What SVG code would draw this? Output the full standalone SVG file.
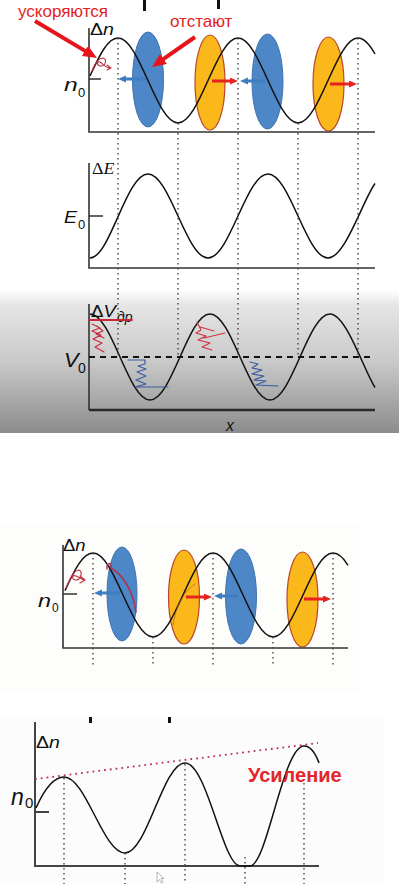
<svg xmlns="http://www.w3.org/2000/svg" width="399" height="884" viewBox="0 0 399 884">
<defs>
<linearGradient id="band" x1="0" y1="290" x2="0" y2="433" gradientUnits="userSpaceOnUse">
<stop offset="0" stop-color="#ffffff"/>
<stop offset="0.1" stop-color="#e6e6e6"/>
<stop offset="0.5" stop-color="#c9c9c9"/>
<stop offset="1" stop-color="#8c8c8c"/>
</linearGradient>
<marker id="hb" markerUnits="userSpaceOnUse" markerWidth="8" markerHeight="8" refX="1" refY="3.5" orient="auto"><path d="M0,0 L8,3.5 L0,7 z" fill="#3d7dc2"/></marker>
<marker id="hr" markerUnits="userSpaceOnUse" markerWidth="8" markerHeight="8" refX="1" refY="3.5" orient="auto"><path d="M0,0 L8,3.5 L0,7 z" fill="#e5221e"/></marker>
<marker id="hbig" markerUnits="userSpaceOnUse" markerWidth="15" markerHeight="13" refX="2" refY="6" orient="auto"><path d="M0,0 L14,6 L0,12 z" fill="#e8141c"/></marker>
</defs>
<style>
.ax{stroke:#333;stroke-width:1.6;fill:none}
.wave{stroke:#111;stroke-width:1.5;fill:none}
.dot{stroke:#444;stroke-width:1.4;stroke-dasharray:1.4 3.6;fill:none}
.blue{fill:#4d87c7;stroke:#3f74b0;stroke-width:1}
.orng{fill:#fab81a;stroke:#b8452a;stroke-width:1.2}
.ab{stroke:#3d7dc2;stroke-width:3;marker-end:url(#hb)}
.ar{stroke:#e5221e;stroke-width:3;marker-end:url(#hr)}
.big{stroke:#e8141c;stroke-width:4;marker-end:url(#hbig)}
.lbl{font-family:"Liberation Sans",Arial,sans-serif;fill:#111}
.it{font-style:italic}
.ann{font-family:"Liberation Sans",Arial,sans-serif;fill:#e31e24}
.scr{fill:none;stroke-linejoin:round;stroke-linecap:round}
</style>
<rect x="0" y="0" width="399" height="884" fill="#ffffff"/>
<rect x="0" y="290" width="399" height="143" fill="url(#band)"/>
<rect x="0" y="525" width="360" height="165" fill="#fdfdfb"/>
<rect x="0" y="716" width="383" height="168" fill="#fcfcfc"/>
<g id="top-marks" fill="#111">
<rect x="143" y="0" width="3" height="11"/>
<rect x="217" y="0" width="3" height="9"/>
<rect x="89" y="717" width="3" height="6"/>
<rect x="168" y="717" width="3" height="6"/>
</g>

<g id="panel1">
<g id="p1-ellipses">
<ellipse class="blue" cx="148" cy="79.5" rx="15.5" ry="47.5"/>
<ellipse class="orng" cx="210" cy="82.5" rx="15" ry="47.5"/>
<ellipse class="blue" cx="267.5" cy="81.5" rx="15.5" ry="47.5"/>
<ellipse class="orng" cx="328.5" cy="84" rx="15.5" ry="47"/>
</g>
<path class="ax" d="M89,28 V132 H375 M89,79 H101"/>
<path class="wave" d="M90,76 C100,54 108,38 118,38 C139.8,38 156.2,123 178,123 C199.8,123 216.2,38 238,38 C259.8,38 276.2,123 298,123 C319.8,123 336.2,38 358,38 C364,38 369,43.4 375,54"/>
<text class="lbl" font-size="17" transform="translate(90,35) scale(1.15,1)">Δ<tspan class="it">n</tspan></text>
<text class="lbl it" font-size="19" transform="translate(64,91) scale(1.3,1)">n</text>
<text class="lbl" font-size="13" x="78" y="97">0</text>
</g>

<g id="panel2">
<path class="ax" d="M89,163 V268 H375 M89,216 H103"/>
<path class="wave" d="M90,258 C110,258 126.2,174 148,174 C169.8,174 186.2,258 208,258 C229.8,258 246.2,174 268,174 C289.8,174 306.2,258 328,258 C345,258 363,200 375,183.5"/>
<text font-family="Liberation Serif,Times New Roman,serif" fill="#111" font-size="17" transform="translate(92,174) scale(1.05,1)">Δ<tspan font-style="italic">E</tspan></text>
<text class="lbl it" font-size="17" transform="translate(64,223) scale(1.15,1)">E</text>
<text class="lbl" font-size="13" x="78" y="229">0</text>
</g>

<g id="panel3">
<path class="ax" d="M89,304 V410"/>
<path d="M89,410 H375" stroke="#2a2a2a" stroke-width="2.6"/>
<path d="M89,357 H375" stroke="#111" stroke-width="1.8" stroke-dasharray="6 5"/>
<path class="wave" d="M90,314 C111.8,314 128.2,400 150,400 C171.8,400 188.2,314 210,314 C231.8,314 248.2,400 270,400 C291.8,400 308.2,314 330,314 C346,314 363,368 375,387.5"/>
<text class="lbl" font-size="17" transform="translate(91,317) scale(1.1,1)">Δ<tspan class="it">V</tspan></text>
<text class="lbl it" font-size="14" x="117" y="322">др</text>
<text class="lbl it" font-size="20" transform="translate(64,367) scale(1.1,1)">V</text>
<text class="lbl" font-size="14" x="78" y="373">0</text>
<text class="lbl it" font-size="16" x="226" y="431">x</text>
</g>

<g id="panel4">
<g id="p4-ellipses">
<ellipse class="blue" cx="122" cy="594" rx="15" ry="47"/>
<ellipse class="orng" cx="184" cy="597" rx="15.5" ry="47"/>
<ellipse class="blue" cx="241" cy="596.5" rx="15.5" ry="47.5"/>
<ellipse class="orng" cx="302.5" cy="599.5" rx="15.5" ry="47.5"/>
</g>
<path class="ax" d="M63,545 V648 H348 M63,594 H77"/>
<path class="wave" d="M65,590.6 C75,568.6 83,553 93,553 C114.8,553 131.2,637 153,637 C174.8,637 191.2,553 213,553 C234.8,553 251.2,637 273,637 C294.8,637 311.2,553 333,553 C338.5,553 343,557 348,565.3"/>
<text class="lbl" font-size="16" transform="translate(63,551) scale(1.15,1)">Δ<tspan class="it">n</tspan></text>
<text class="lbl it" font-size="18" transform="translate(38,607) scale(1.3,1)">n</text>
<text class="lbl" font-size="12" x="52" y="612">0</text>
</g>

<g id="panel5">
<path d="M35,722 V866 H319 M35,812 H49" stroke="#444" stroke-width="2" fill="none"/>
<path d="M35,779 L318,743" stroke="#c03050" stroke-width="1.8" stroke-dasharray="1.8 4" fill="none"/>
<path class="wave" stroke-width="1.8" d="M36,808 C44,790 53,777 64,777 C86,777 103,853 125,853 C147,853 163,763 185,763 C207,763 223,866 240,866 L250,866 C267,866 283,746 304,746 C310,746 315,752 319,763"/>
<text class="lbl" font-size="17" transform="translate(36,748) scale(1.15,1)">Δ<tspan class="it">n</tspan></text>
<text class="lbl it" font-size="23" x="11" y="805">n</text>
<text class="lbl" font-size="15" x="25" y="808">0</text>
<text font-family="Liberation Sans,Arial,sans-serif" font-weight="bold" font-size="20" fill="#e3262a" x="248" y="782">Усиление</text>
<path d="M157,872 L157,882 L159.5,879.5 L161.5,883 L163,882 L161,878.5 L164,878.5 Z" fill="#fff" stroke="#999" stroke-width="0.7"/>
</g>

<g id="connectors">
<path class="dot" d="M118,38 V357 M178,123 V357 M238,38 V357 M298,123 V357 M358,38 V357"/>
<path class="dot" d="M93,553 V665 M153,637 V665 M213,553 V665 M273,637 V665 M333,553 V665"/>
<path class="dot" d="M64,778 V884 M125,853 V884 M185,764 V884 M245,857 V884 M304,783 V884"/>
<line class="ab" x1="146" y1="79" x2="125" y2="79"/>
<line class="ar" x1="212" y1="81" x2="231" y2="81"/>
<line class="ab" x1="265" y1="81" x2="247" y2="81"/>
<line class="ar" x1="330" y1="84" x2="350" y2="84"/>
<line class="ab" x1="120" y1="593" x2="101" y2="593"/>
<line class="ar" x1="186" y1="597" x2="205" y2="597"/>
<line class="ab" x1="238" y1="596" x2="221" y2="596"/>
<line class="ar" x1="304" y1="599" x2="324" y2="599"/>
<line class="big" x1="35" y1="21" x2="86.7" y2="51.9"/>
<line class="big" x1="195" y1="37" x2="161.8" y2="60.1"/>
</g>

<g id="annotations">
<text class="ann" font-size="17" x="18" y="17">ускоряются</text>
<text class="ann" font-size="17" x="170" y="27">отстают</text>
<path class="scr" stroke="#c03040" stroke-width="1.1" d="M92,71 C95,63 99,58 103,58 C107,59 106,66 101,66 C97,66 96,61 100,62 C103,64 106,68 110,68 M107,65 L111,68 L107,70"/>
<path class="scr" stroke="#c82838" stroke-width="1.8" d="M89,320 L132,320"/>
<path class="scr" stroke="#c82838" stroke-width="1.1" d="M92,324 L100,328 L92,331 L101,335 L93,339 L102,343 L95,347 L104,352 M97,326 L103,331 L96,334 L104,338"/>
<path class="scr" stroke="#d23040" stroke-width="1.1" d="M197,322 L201,330 L196,333 L206,336 L198,340 L210,343 L202,347 L212,350 M204,338 L225,333 M200,327 L214,331"/>
<path class="scr" stroke="#3a5aa0" stroke-width="1.2" d="M128,360 L145,360 L145,364 L138,366 L146,369 L137,372 L146,376 L136,380 L146,384 L135,387 L168,387"/>
<path class="scr" stroke="#3a5aa0" stroke-width="1.2" d="M250,362 L258,364 L252,368 L262,370 L252,374 L264,376 L254,380 L266,381 L256,385 L278,386"/>
<path class="scr" stroke="#c03040" stroke-width="1.1" d="M66,588 C70,578 74,570 79,570 C83,572 81,580 76,580 C71,580 72,574 76,576 L84,580 M80,576 L85,580 L80,583"/>
<path class="scr" stroke="#b03050" stroke-width="1.5" d="M107,569 C106,562 112,562 111,568 C122,574 133,590 136,612"/>
<path class="scr" stroke="#b8602c" stroke-width="1" opacity="0.7" d="M173,625 C176,605 185,590 195,584"/>
</g>
</svg>
